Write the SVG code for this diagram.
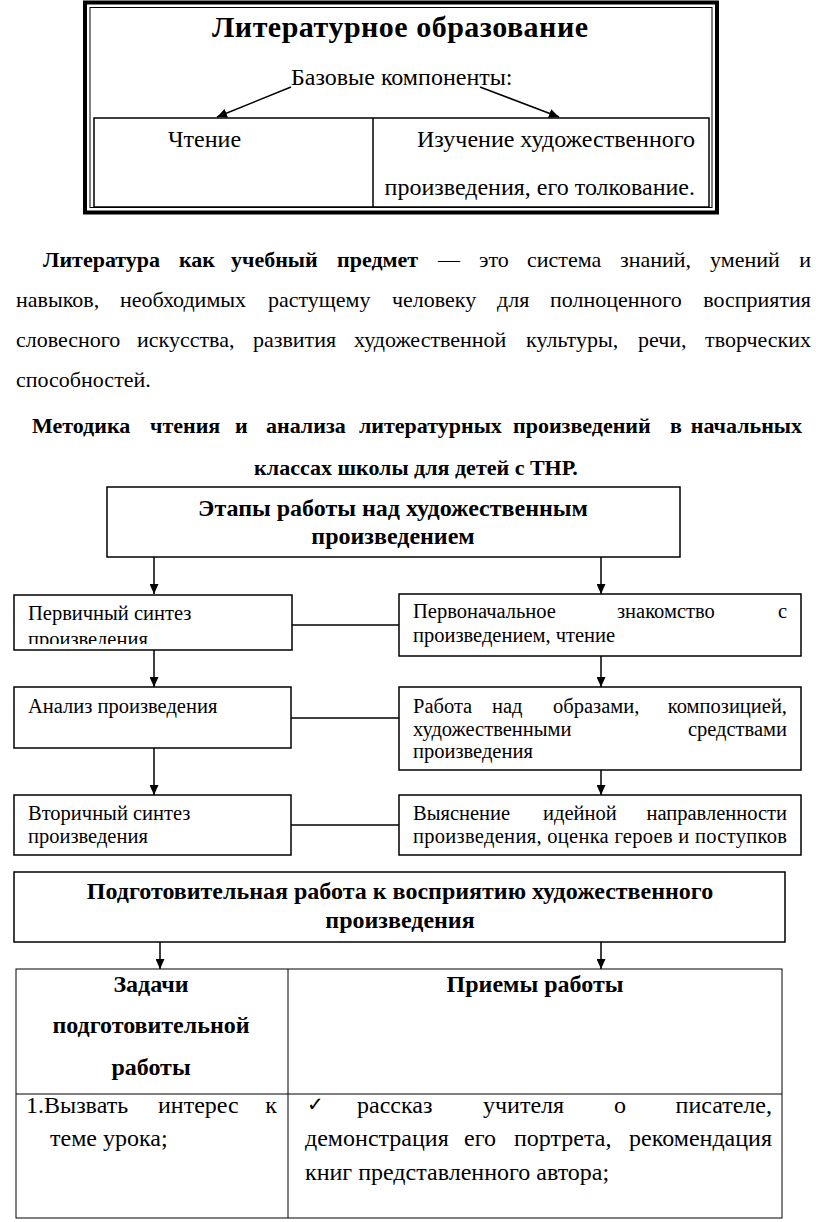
<svg xmlns="http://www.w3.org/2000/svg" width="816" height="1222" viewBox="0 0 816 1222">
<style>
.t{font-family:"Liberation Serif","Times New Roman",serif;fill:#000}
.b{font-weight:bold}
.s20{font-size:20.5px}
.s22{font-size:22px}
.s24{font-size:24px}
.box{fill:#fff;stroke:#000;stroke-width:1.5}
.ln{fill:none;stroke:#000;stroke-width:1.5}
.ar{fill:none;stroke:#000;stroke-width:1.5;marker-end:url(#ah)}
</style>
<defs>
<marker id="ah" markerUnits="userSpaceOnUse" markerWidth="10" markerHeight="9" refX="10" refY="4.5" orient="auto">
<path d="M0,0 L10,4.5 L0,9 z" fill="#000"/>
</marker>
<clipPath id="c1"><rect x="14" y="595" width="278" height="49"/></clipPath>
</defs>
<rect width="816" height="1222" fill="#fff"/>

<g id="lit-box">
<rect x="85" y="2.5" width="632" height="210" fill="none" stroke="#000" stroke-width="4"/>
<rect x="90" y="7.5" width="622" height="200" fill="none" stroke="#000" stroke-width="1"/>
<text class="t b" x="400" y="37" font-size="30" text-anchor="middle" textLength="376" lengthAdjust="spacing">Литературное образование</text>
<text class="t s24" x="291" y="85">Базовые компоненты:</text>
</g>
<g id="components-table">
<rect x="94" y="118" width="615" height="89" fill="none" stroke="#000" stroke-width="1.5"/>
<line x1="373" y1="118" x2="373" y2="207" stroke="#000" stroke-width="1.5"/>
<text class="t s24" x="168" y="147">Чтение</text>
<text class="t s24" x="695" y="147" text-anchor="end">Изучение художественного</text>
<text class="t s24" x="695" y="195" text-anchor="end">произведения, его толкование.</text>
</g>

<g id="paragraph">
<text class="t s22" y="267"><tspan class="b" x="43">Литература</tspan><tspan class="b" x="179">как</tspan><tspan class="b" x="231">учебный</tspan><tspan class="b" x="337">предмет</tspan><tspan x="438">—</tspan><tspan x="479">это</tspan><tspan x="527">система</tspan><tspan x="620">знаний,</tspan><tspan x="710">умений</tspan><tspan x="811" text-anchor="end">и</tspan></text>
<text class="t s22" y="307"><tspan x="16">навыков,</tspan><tspan x="120">необходимых</tspan><tspan x="268">растущему</tspan><tspan x="392">человеку</tspan><tspan x="497">для</tspan><tspan x="550">полноценного</tspan><tspan x="811" text-anchor="end">восприятия</tspan></text>
<text class="t s22" y="347"><tspan x="16">словесного</tspan><tspan x="137">искусства,</tspan><tspan x="253">развития</tspan><tspan x="354">художественной</tspan><tspan x="526">культуры,</tspan><tspan x="638">речи,</tspan><tspan x="811" text-anchor="end">творческих</tspan></text>
<text class="t s22" x="16" y="387">способностей.</text>
<text class="t b s22" y="433"><tspan x="32">Методика</tspan><tspan x="150">чтения</tspan><tspan x="235">и</tspan><tspan x="266">анализа</tspan><tspan x="359">литературных</tspan><tspan x="513">произведений</tspan><tspan x="670">в</tspan><tspan x="802" text-anchor="end">начальных</tspan></text>
<text class="t b s22" x="416" y="475" text-anchor="middle">классах школы для детей с ТНР.</text>
</g>

<g id="connectors">
<line class="ar" x1="154" y1="557" x2="154" y2="594"/>
<line class="ar" x1="601" y1="557" x2="601" y2="594"/>
<line class="ln" x1="292" y1="625" x2="399" y2="625"/>
<line class="ar" x1="154" y1="650" x2="154" y2="687"/>
<line class="ar" x1="601" y1="656" x2="601" y2="687"/>
<line class="ln" x1="291" y1="718" x2="399" y2="718"/>
<line class="ar" x1="154" y1="748" x2="154" y2="795"/>
<line class="ar" x1="601" y1="770" x2="601" y2="795"/>
<line class="ln" x1="291" y1="825" x2="399" y2="825"/>
<line class="ar" x1="160" y1="942" x2="160" y2="969"/>
<line class="ar" x1="601" y1="942" x2="601" y2="969"/>
<line class="ar" x1="291" y1="87" x2="217" y2="117"/>
<line class="ar" x1="480" y1="87" x2="559" y2="117"/>
</g>

<g id="stages">
<rect class="box" x="107" y="487" width="573" height="70"/>
<text class="t b s24" x="393" y="516" text-anchor="middle">Этапы работы над художественным</text>
<text class="t b s24" x="393" y="544" text-anchor="middle">произведением</text>
</g>
<g id="primary-synthesis">
<rect class="box" x="14" y="595" width="278" height="55"/>
<text class="t s20" x="28" y="620">Первичный синтез</text>
<text class="t s20" x="28" y="646" clip-path="url(#c1)">произведения</text>
</g>
<g id="first-acquaintance">
<rect class="box" x="399" y="594" width="402" height="62"/>
<text class="t s20" y="618"><tspan x="413">Первоначальное</tspan><tspan x="617">знакомство</tspan><tspan x="787" text-anchor="end">с</tspan></text>
<text class="t s20" x="413" y="642">произведением, чтение</text>
</g>
<g id="analysis">
<rect class="box" x="14" y="687" width="277" height="61"/>
<text class="t s20" x="28" y="713">Анализ произведения</text>
</g>
<g id="images-work">
<rect class="box" x="399" y="687" width="402" height="83"/>
<text class="t s20" y="713"><tspan x="413">Работа</tspan><tspan x="492">над</tspan><tspan x="553">образами,</tspan><tspan x="787" text-anchor="end">композицией,</tspan></text>
<text class="t s20" y="736"><tspan x="413">художественными</tspan><tspan x="787" text-anchor="end">средствами</tspan></text>
<text class="t s20" x="413" y="758">произведения</text>
</g>
<g id="secondary-synthesis">
<rect class="box" x="14" y="795" width="277" height="60"/>
<text class="t s20" x="28" y="820">Вторичный синтез</text>
<text class="t s20" x="28" y="843">произведения</text>
</g>
<g id="idea">
<rect class="box" x="399" y="795" width="402" height="60"/>
<text class="t s20" y="820"><tspan x="413">Выяснение</tspan><tspan x="543">идейной</tspan><tspan x="787" text-anchor="end">направленности</tspan></text>
<text class="t s20" x="413" y="843" textLength="374" lengthAdjust="spacing">произведения, оценка героев и поступков</text>
</g>

<g id="preparation">
<rect class="box" x="14" y="872" width="771" height="70"/>
<text class="t b s24" x="400" y="899" text-anchor="middle">Подготовительная работа к восприятию художественного</text>
<text class="t b s24" x="400" y="928" text-anchor="middle">произведения</text>
</g>

<g id="prep-table">
<rect x="16" y="969" width="766" height="249" fill="none" stroke="#000" stroke-width="1"/>
<line x1="288" y1="969" x2="288" y2="1218" stroke="#000" stroke-width="1"/>
<line x1="16" y1="1094" x2="782" y2="1094" stroke="#000" stroke-width="1"/>
<text class="t b s24" x="151" y="992" text-anchor="middle">Задачи</text>
<text class="t b s24" x="151" y="1033" text-anchor="middle">подготовительной</text>
<text class="t b s24" x="151" y="1075" text-anchor="middle">работы</text>
<text class="t b s24" x="535" y="992" text-anchor="middle">Приемы работы</text>
<text class="t s24" y="1113"><tspan x="26">1.Вызвать</tspan><tspan x="158">интерес</tspan><tspan x="277" text-anchor="end">к</tspan></text>
<text class="t s24" x="50" y="1146">теме урока;</text>
<text x="307" y="1111" font-family="DejaVu Sans, sans-serif" font-size="20">✓</text>
<text class="t s24" y="1113"><tspan x="357">рассказ</tspan><tspan x="483">учителя</tspan><tspan x="614">о</tspan><tspan x="772" text-anchor="end">писателе,</tspan></text>
<text class="t s24" y="1146"><tspan x="305">демонстрация</tspan><tspan x="464">его</tspan><tspan x="514">портрета,</tspan><tspan x="772" text-anchor="end">рекомендация</tspan></text>
<text class="t s24" x="305" y="1180">книг представленного автора;</text>
</g>
</svg>
